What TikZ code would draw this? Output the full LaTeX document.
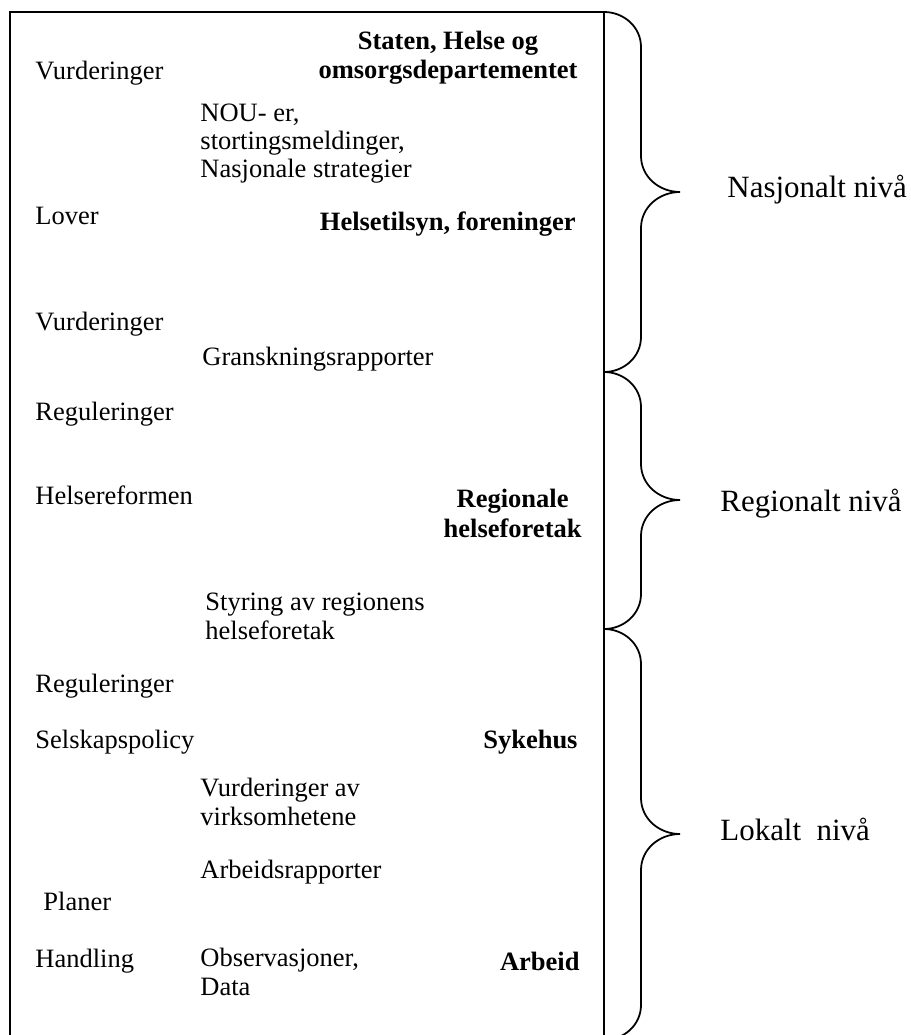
\documentclass[tikz,border=0pt]{standalone}
\usepackage{fontspec}
\setmainfont{Liberation Serif}
\usepackage{tikz}
\usetikzlibrary{calc}

\begin{document}
\begin{tikzpicture}[x=0.4528pt, y=-0.4528pt,
  item/.style={anchor=base west, inner sep=0pt, align=left,
    font=\fontsize{12}{12.7}\selectfont},
  actor/.style={anchor=base east, inner sep=0pt, align=center,
    font=\fontsize{12}{13.2}\selectfont\bfseries},
  level/.style={anchor=base west, inner sep=0pt,
    font=\fontsize{14}{16}\selectfont},
  frame/.style={line width=0.8pt},
  curly/.style={line width=0.8pt}]
  \useasboundingbox (0,0) rectangle (911,1035);

  % the frame and the points where the braces meet it
  \draw[frame] (10,12) rectangle (604,1040);
  \coordinate (n1) at (604,12);
  \coordinate (n2) at (604,372);
  \coordinate (n3) at (604,629);
  \coordinate (n4) at (604,1040);
  \coordinate (t1) at (680,192);
  \coordinate (t2) at (680,500);
  \coordinate (t3) at (680,834);

  % braces
  \foreach \s/\t/\e in {n1/t1/n2, n2/t2/n3, n3/t3/n4}
    \draw[curly] (\s) to[out=0,in=90] ($(\s)+(37,35)$)
      -- ($(\t)+(-39,-36)$) to[out=-90,in=180] (\t)
      to[out=180,in=90] ($(\t)+(-39,36)$)
      -- ($(\e)+(37,-35)$) to[out=-90,in=0] (\e);

  \node[level] (nasj) at (727,198) {Nasjonalt nivå};
  \node[level] (regi) at (720,511) {Regionalt nivå};
  \node[level] (loka) at (720,840) {Lokalt\ \ nivå};

  % national level (multi-line nodes sit on their last line)
  \node[actor] (staten) at (578,79) {Staten, Helse og\\omsorgsdepartementet};
  \node[item] (vurd1) at (35,80) {Vurderinger};
  \node[item] (nou) at (200,178) {NOU- er,\\stortingsmeldinger,\\Nasjonale strategier};
  \node[item] (lover) at (35,224) {Lover};
  \node[actor] (tilsyn) at (576,231) {Helsetilsyn, foreninger};
  \node[item] (vurd2) at (35,330) {Vurderinger};
  \node[item] (gransk) at (202,365) {Granskningsrapporter};

  % regional level
  \node[item] (reg1) at (35,420) {Reguleringer};
  \node[item] (reform) at (35,504) {Helsereformen};
  \node[actor] (rhf) at (582,537) {Regionale\\helseforetak};
  \node[item] (styring) at (205,639) {Styring av regionens\\helseforetak};

  % local level
  \node[item] (reg2) at (35,692) {Reguleringer};
  \node[item] (policy) at (35,748) {Selskapspolicy};
  \node[actor] (sykehus) at (578,748) {Sykehus};
  \node[item] (vurd3) at (200,825) {Vurderinger av\\virksomhetene};
  \node[item] (arbrap) at (200,878) {Arbeidsrapporter};
  \node[item] (planer) at (43,910) {Planer};
  \node[item] (handling) at (35,967) {Handling};
  \node[item] (obs) at (200,995) {Observasjoner,\\Data};
  \node[actor] (arbeid) at (580,970) {Arbeid};
\end{tikzpicture}
\end{document}
